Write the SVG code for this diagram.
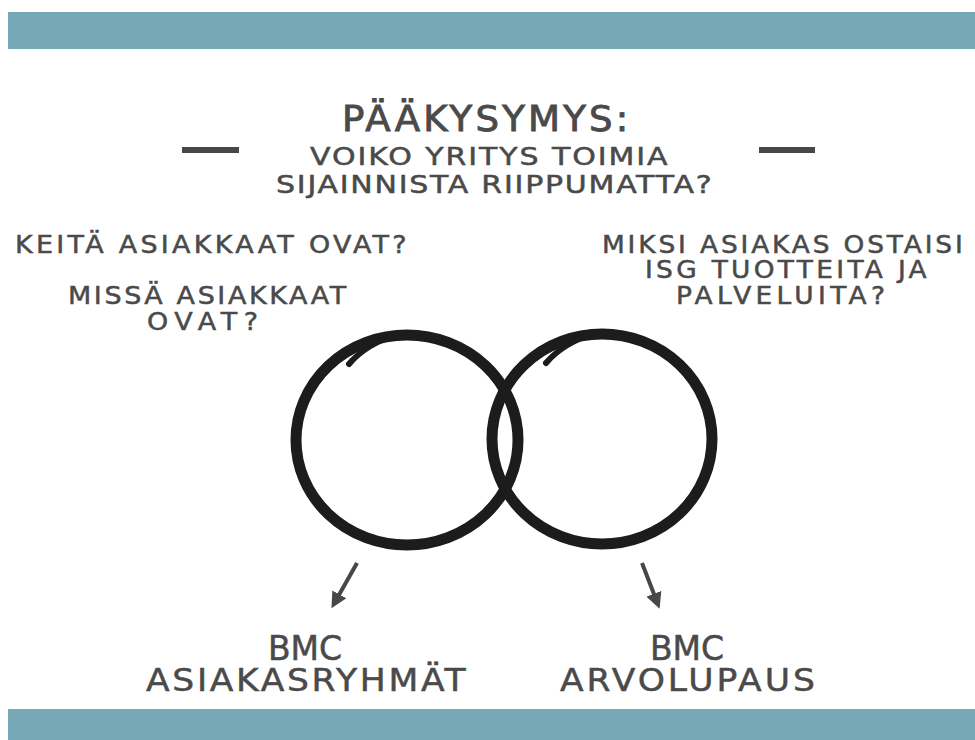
<svg xmlns="http://www.w3.org/2000/svg" width="975" height="740" viewBox="0 0 975 740">
<style>
.bar{fill:#76a9b5}
.t{font-family:"DejaVu Sans","Liberation Sans",sans-serif;fill:#4a4a4a;stroke:#4a4a4a;stroke-width:0.5}
.h{stroke-width:0.9}
.ring{fill:none;stroke:#1c1c1c;stroke-width:11}
.ringx{fill:none;stroke:#1c1c1c;stroke-width:6;stroke-linecap:round}
.dash{stroke:#474747;stroke-width:6}
.arr{stroke:#474747;stroke-width:4;fill:none}
</style>
<defs>
<marker id="ah" markerWidth="4" markerHeight="4" refX="2.2" refY="2" orient="auto" markerUnits="strokeWidth">
<path d="M0,0 L4,2 L0,4 Z" fill="#474747"/>
</marker>
</defs>
<rect width="975" height="740" fill="#ffffff"/>
<rect class="bar" x="8" y="12" width="967" height="37"/>
<rect class="bar" x="8" y="709" width="967" height="31"/>

<g id="title">
<line class="dash" x1="182" y1="150" x2="239" y2="150"/>
<line class="dash" x1="759" y1="150" x2="815" y2="150"/>
<text class="t h" transform="translate(342,131) scale(1.03,1)" font-size="36" textLength="278" lengthAdjust="spacing">PÄÄKYSYMYS:</text>
<text class="t" transform="translate(310,165) scale(1.2,1)" font-size="25" textLength="298" lengthAdjust="spacing">VOIKO YRITYS TOIMIA</text>
<text class="t" transform="translate(276,193) scale(1.2,1)" font-size="25" textLength="363" lengthAdjust="spacing">SIJAINNISTA RIIPPUMATTA?</text>
</g>

<g id="left-questions">
<text class="t" transform="translate(15,253) scale(1.1,1)" font-size="24.5" textLength="356" lengthAdjust="spacing">KEITÄ ASIAKKAAT OVAT?</text>
<text class="t" transform="translate(68,304) scale(1.1,1)" font-size="24.5" textLength="253" lengthAdjust="spacing">MISSÄ ASIAKKAAT</text>
<text class="t" transform="translate(147,330) scale(1.1,1)" font-size="24.5" textLength="101" lengthAdjust="spacing">OVAT?</text>
</g>

<g id="right-questions">
<text class="t" transform="translate(602,253) scale(1.1,1)" font-size="24" textLength="328" lengthAdjust="spacing">MIKSI ASIAKAS OSTAISI</text>
<text class="t" transform="translate(645,278) scale(1.1,1)" font-size="24" textLength="256" lengthAdjust="spacing">ISG TUOTTEITA JA</text>
<text class="t" transform="translate(676,304) scale(1.1,1)" font-size="24" textLength="190" lengthAdjust="spacing">PALVELUITA?</text>
</g>

<g id="circle-left">
<ellipse class="ring" cx="407" cy="440" rx="111" ry="105"/>
<path class="ringx" d="M349 364 Q 366 344 398 334"/>
</g>
<g id="circle-right">
<ellipse class="ring" cx="602" cy="439" rx="110" ry="105"/>
<path class="ringx" d="M546 363 Q 563 343 595 333"/>
</g>

<g id="connectors">
<line class="arr" x1="357" y1="563" x2="335" y2="602" marker-end="url(#ah)"/>
<line class="arr" x1="642" y1="563" x2="657" y2="602" marker-end="url(#ah)"/>
</g>

<g id="bmc-left">
<text class="t" x="268" y="660" font-size="33" textLength="74" lengthAdjust="spacing">BMC</text>
<text class="t" transform="translate(146,691) scale(1.08,1)" font-size="32" textLength="296" lengthAdjust="spacing">ASIAKASRYHMÄT</text>
</g>
<g id="bmc-right">
<text class="t" x="650" y="660" font-size="33" textLength="74" lengthAdjust="spacing">BMC</text>
<text class="t" transform="translate(560,691) scale(1.08,1)" font-size="32" textLength="236" lengthAdjust="spacing">ARVOLUPAUS</text>
</g>
</svg>
